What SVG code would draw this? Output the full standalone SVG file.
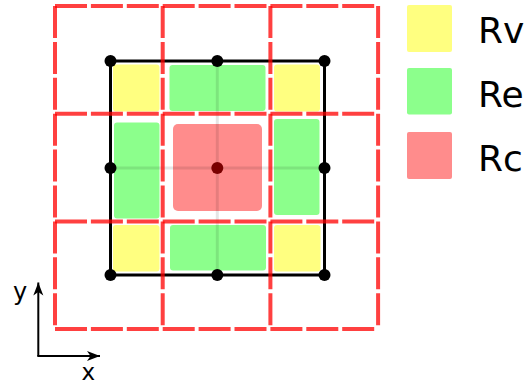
<svg xmlns="http://www.w3.org/2000/svg" width="529" height="385" viewBox="0 0 529 385">
  <defs>
    <style>
      .g{fill:none;stroke:#ff0000;stroke-opacity:0.75;stroke-width:4;stroke-dasharray:32 3.9}
      .rv{fill:#ffff80}
      .re{fill:#8cff8c}
      .rc{fill:#ff8c8c}
      .dot{fill:#000}
      .axis{stroke:#000;stroke-width:2;fill:none}
      .lbl{font-family:"DejaVu Sans","Liberation Sans",sans-serif;fill:#000}
    </style>
    <marker id="arr" viewBox="-13 -6 14 12" refX="0" refY="0" markerWidth="14" markerHeight="12" markerUnits="userSpaceOnUse" orient="auto">
      <path d="M0,0 L-13,-5 L-9.5,0 L-13,5 Z" fill="#000"/>
    </marker>
  </defs>

  <g id="regions">
    <rect class="rv" x="113" y="64.5" width="46.5" height="47" rx="3"/>
    <rect class="rv" x="274" y="64.5" width="46" height="47" rx="3"/>
    <rect class="rv" x="113" y="225" width="46.5" height="46.5" rx="3"/>
    <rect class="rv" x="274" y="225" width="46.5" height="46.5" rx="3"/>
    <rect class="re" x="169.5" y="65" width="96" height="46" rx="3"/>
    <rect class="re" x="170" y="225" width="96" height="45.5" rx="3"/>
    <rect class="re" x="114" y="122.5" width="45.5" height="96" rx="3"/>
    <rect class="re" x="274" y="119" width="45.5" height="96" rx="3"/>
    <rect class="rc" x="173" y="124" width="89" height="87" rx="5"/>
  </g>

  <g id="midlines" stroke="#000" stroke-opacity="0.1" stroke-width="3">
    <line x1="110.5" y1="168" x2="324.5" y2="168"/>
    <line x1="217.3" y1="61" x2="217.3" y2="275"/>
  </g>

  <g id="square">
    <rect x="110.5" y="61" width="214" height="214" fill="none" stroke="#000" stroke-width="3"/>
  </g>

  <g id="grid">
    <line class="g" x1="55" y1="6" x2="378.1" y2="6"/>
    <line class="g" x1="55" y1="113.7" x2="378.1" y2="113.7"/>
    <line class="g" x1="55" y1="221.4" x2="378.1" y2="221.4"/>
    <line class="g" x1="55" y1="329.1" x2="378.1" y2="329.1"/>
    <line class="g" x1="55" y1="6" x2="55" y2="329.1"/>
    <line class="g" x1="162.7" y1="6" x2="162.7" y2="329.1"/>
    <line class="g" x1="270.4" y1="6" x2="270.4" y2="329.1"/>
    <line class="g" x1="378.1" y1="6" x2="378.1" y2="329.1"/>
  </g>

  <g id="dots">
    <circle class="dot" cx="110.5" cy="61" r="6"/>
    <circle class="dot" cx="217.3" cy="61" r="6"/>
    <circle class="dot" cx="324.5" cy="61" r="6"/>
    <circle class="dot" cx="110.5" cy="168" r="6"/>
    <circle class="dot" cx="324.5" cy="168" r="6"/>
    <circle class="dot" cx="110.5" cy="275" r="6"/>
    <circle class="dot" cx="217.3" cy="275" r="6"/>
    <circle class="dot" cx="324.5" cy="275" r="6"/>
    <circle cx="217.3" cy="168" r="6" fill="#7a0000"/>
  </g>

  <g id="axes">
    <line class="axis" x1="38.3" y1="356" x2="38.3" y2="282.5" marker-end="url(#arr)"/>
    <line class="axis" x1="37.3" y1="356" x2="100" y2="356" marker-end="url(#arr)"/>
    <text class="lbl" x="13" y="300" font-size="24">y</text>
    <text class="lbl" x="81.5" y="380" font-size="23">x</text>
  </g>

  <g id="legend">
    <rect class="rv" x="407" y="5" width="45" height="47" rx="2"/>
    <rect class="re" x="407" y="68" width="45" height="46.5" rx="2"/>
    <rect class="rc" x="407" y="132" width="45" height="47" rx="2"/>
    <text class="lbl" x="478" y="42.7" font-size="36">Rv</text>
    <text class="lbl" x="478" y="107" font-size="36">Re</text>
    <text class="lbl" x="478" y="170.7" font-size="36">Rc</text>
  </g>
</svg>
